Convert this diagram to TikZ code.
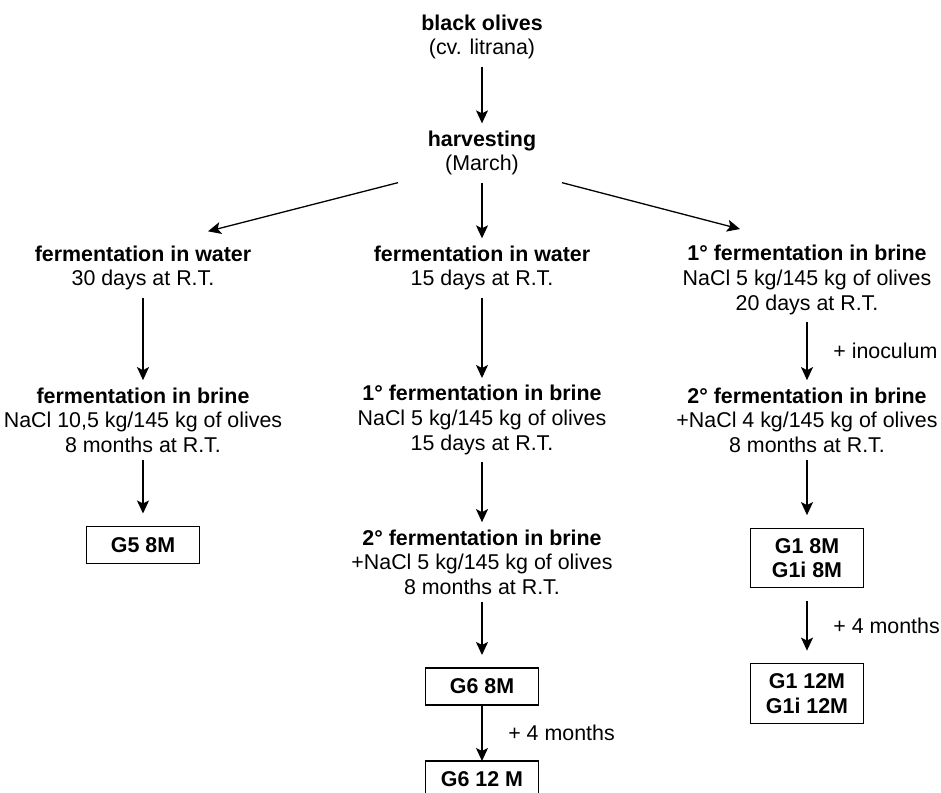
\documentclass[tikz,border=0pt]{standalone}
\usepackage{fontspec}
\setmainfont{Liberation Sans}
\usepackage{tikz}
\usetikzlibrary{arrows.meta, positioning}
\tikzstyle{stage} = [align=center, inner sep=3.5pt, font=\fontsize{10.7pt}{12.3pt}\selectfont]
\tikzstyle{sample} = [rectangle, draw=black, line width=0.6pt, minimum width=56.5pt, minimum height=18.5pt, inner sep=5pt, outer sep=6.5pt, align=center, font=\fontsize{10.7pt}{12.3pt}\selectfont\bfseries]
\tikzstyle{arrow} = [line width=0.65pt, -{Stealth[length=6.5pt, width=6pt, inset=1.5pt]}]
\tikzstyle{note} = [right, xshift=9.5pt, font=\fontsize{10.7pt}{12.3pt}\selectfont]

\begin{document}
\begin{tikzpicture}[node distance=58pt]
	\useasboundingbox (-241pt,18.5pt) rectangle (229.5pt,-377.5pt);
	
	% Nodes for the trunk
	\node (olives) [stage] {\textbf{black olives}\\(cv. litrana)};
	\node (harvest) [stage, below of=olives] {\textbf{harvesting}\\(March)};
	
	% Nodes for the left branch
	\node (lwater) [stage, below of=harvest, node distance=57.5pt, xshift=-169.5pt] {\textbf{fermentation in water}\\30 days at R.T.};
	\node (lbrine) [stage, below of=lwater, node distance=76pt] {\textbf{fermentation in brine}\\NaCl 10,5 kg/145 kg of olives\\8 months at R.T.};
	\node (gfive) [sample, below of=lbrine, node distance=62.5pt] {G5 8M};
	
	% Nodes for the middle branch
	\node (mwater) [stage, below of=harvest, node distance=57.5pt] {\textbf{fermentation in water}\\15 days at R.T.};
	\node (mbrinea) [stage, below of=mwater, node distance=76pt] {\textbf{1° fermentation in brine}\\NaCl 5 kg/145 kg of olives\\15 days at R.T.};
	\node (mbrineb) [stage, below of=mbrinea, node distance=71pt] {\textbf{2° fermentation in brine}\\+NaCl 5 kg/145 kg of olives\\8 months at R.T.};
	\node (gsixa) [sample, below of=mbrineb, node distance=62.25pt] {G6 8M};
	\node (gsixb) [sample, below of=gsixa, node distance=46.5pt] {G6 12 M};
	
	% Nodes for the right branch
	\node (rbrinea) [stage, below of=harvest, node distance=63.5pt, xshift=162.5pt] {\textbf{1° fermentation in brine}\\NaCl 5 kg/145 kg of olives\\20 days at R.T.};
	\node (rbrineb) [stage, below of=rbrinea, node distance=70pt] {\textbf{2° fermentation in brine}\\+NaCl 4 kg/145 kg of olives\\8 months at R.T.};
	\node (gonea) [sample, below of=rbrineb, node distance=69pt] {G1 8M\\G1i 8M};
	\node (goneb) [sample, below of=gonea, node distance=67.75pt] {G1 12M\\G1i 12M};
	
	% Arrows for the trunk
	\draw [arrow] (olives) -- (harvest);
	\draw [arrow] ([xshift=-42pt]harvest.south) -- ([xshift=32.5pt, yshift=3.5pt]lwater.north);
	\draw [arrow] (harvest) -- (mwater);
	\draw [arrow] ([xshift=40pt]harvest.south) -- ([xshift=-33.5pt, yshift=4.5pt]rbrinea.north);
	
	% Arrows for the left branch
	\draw [arrow] (lwater) -- (lbrine);
	\draw [arrow] (lbrine) -- (gfive);
	
	% Arrows for the middle branch
	\draw [arrow] (mwater) -- (mbrinea);
	\draw [arrow] (mbrinea) -- (mbrineb);
	\draw [arrow] (mbrineb) -- (gsixa);
	\draw [arrow, shorten <=-6.5pt, shorten >=-6.5pt] (gsixa) -- node [note] {+ 4 months} (gsixb);
	
	% Arrows for the right branch
	\draw [arrow] (rbrinea) -- node [note] {+ inoculum} (rbrineb);
	\draw [arrow] (rbrineb) -- (gonea);
	\draw [arrow] (gonea) -- node [note] {+ 4 months} (goneb);
	
\end{tikzpicture}
\end{document}
